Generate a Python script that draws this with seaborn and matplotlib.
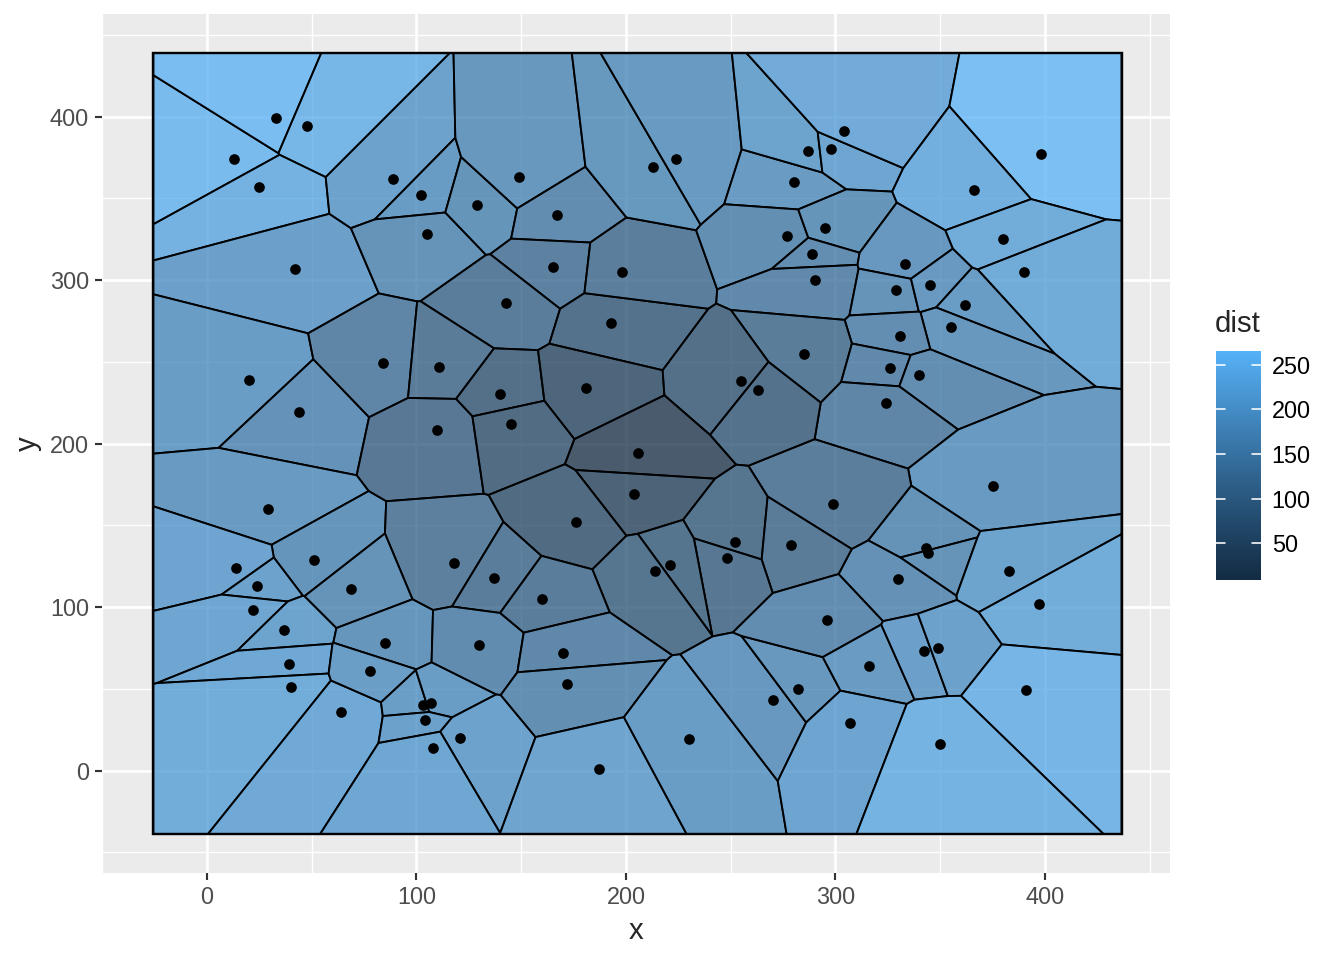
import numpy as np
import pandas as pd
import seaborn as sns
import matplotlib.pyplot as plt
from matplotlib.collections import PolyCollection
from matplotlib.colors import ListedColormap, Normalize, to_rgb
from matplotlib.cm import ScalarMappable

# point coordinates
xs = [13, 33, 48, 25, 42, 89, 102, 105, 129, 149, 167, 165, 143, 193, 198, 213, 224,
      280, 287, 298, 304, 277, 295, 289, 290, 398, 366, 380, 390, 333, 329, 345, 362,
      355, 331, 285, 326, 340, 324, 375, 299, 343, 344, 383, 330, 20, 44, 84, 111,
      140, 110, 29, 51, 14, 118, 137, 181, 255, 263, 145, 206, 204, 176, 252, 279,
      248, 221, 214, 24, 22, 37, 39, 40, 64, 69, 85, 78, 130, 103, 107, 104, 121,
      108, 160, 170, 172, 187, 230, 270, 282, 296, 397, 316, 342, 349, 391, 307, 350]
ys = [374, 399, 394, 357, 307, 362, 352, 328, 346, 363, 340, 308, 286, 274, 305, 369, 374,
      360, 379, 380, 391, 327, 332, 316, 300, 377, 355, 325, 305, 310, 294, 297, 285,
      271, 266, 255, 246, 242, 225, 174, 163, 136, 133, 122, 117, 239, 219, 249, 247,
      230, 208, 160, 129, 124, 127, 118, 234, 238, 233, 212, 194, 169, 152, 140, 138,
      130, 126, 122, 113, 98, 86, 65, 51, 36, 111, 78, 61, 77, 40, 41, 31, 20,
      14, 105, 72, 53, 1, 19, 43, 50, 92, 102, 64, 73, 75, 49, 29, 16]

df = pd.DataFrame({"x": xs, "y": ys})
df["dist"] = np.sqrt((df.x - 200) ** 2 + (df.y - 200) ** 2)

# bounding box like ggvoronoi (10% of range)
rx = df.x.max() - df.x.min()
ry = df.y.max() - df.y.min()
x0, x1 = df.x.min() - 0.1 * rx, df.x.max() + 0.1 * rx
y0, y1 = df.y.min() - 0.1 * ry, df.y.max() + 0.1 * ry


def clip(poly, a, b, c):
    # keep part of polygon with a*x + b*y <= c
    out = []
    n = len(poly)
    for i in range(n):
        p, q = poly[i], poly[(i + 1) % n]
        fp = a * p[0] + b * p[1] - c
        fq = a * q[0] + b * q[1] - c
        if fp <= 0:
            out.append(p)
        if fp * fq < 0:
            t = fp / (fp - fq)
            out.append((p[0] + t * (q[0] - p[0]), p[1] + t * (q[1] - p[1])))
    return out


pts = df[["x", "y"]].to_numpy(float)
cells = []
for i, p in enumerate(pts):
    poly = [(x0, y0), (x1, y0), (x1, y1), (x0, y1)]
    for j, q in enumerate(pts):
        if i == j:
            continue
        a, b = q - p
        c = (q @ q - p @ p) / 2
        poly = clip(poly, a, b, c)
        if not poly:
            break
    cells.append(poly)


# ggplot default gradient, interpolated in Lab
def to_lab(rgb):
    rgb = np.asarray(rgb, float)
    lin = np.where(rgb > 0.04045, ((rgb + 0.055) / 1.055) ** 2.4, rgb / 12.92)
    M = np.array([[0.4124, 0.3576, 0.1805], [0.2126, 0.7152, 0.0722], [0.0193, 0.1192, 0.9505]])
    xyz = M @ lin / np.array([0.95047, 1.0, 1.08883])
    f = np.where(xyz > 0.008856, np.cbrt(xyz), 7.787 * xyz + 16 / 116)
    return np.array([116 * f[1] - 16, 500 * (f[0] - f[1]), 200 * (f[1] - f[2])])


def from_lab(lab):
    L, A, B = lab
    fy = (L + 16) / 116
    f = np.array([fy + A / 500, fy, fy - B / 200])
    xyz = np.where(f ** 3 > 0.008856, f ** 3, (f - 16 / 116) / 7.787) * np.array([0.95047, 1.0, 1.08883])
    Mi = np.array([[3.2406, -1.5372, -0.4986], [-0.9689, 1.8758, 0.0415], [0.0557, -0.2040, 1.0570]])
    lin = Mi @ xyz
    rgb = np.where(lin > 0.0031308, 1.055 * np.clip(lin, 0, None) ** (1 / 2.4) - 0.055, 12.92 * lin)
    return np.clip(rgb, 0, 1)


lo, hi = to_lab(to_rgb("#132B43")), to_lab(to_rgb("#56B1F7"))
cmap = ListedColormap([from_lab(lo + t * (hi - lo)) for t in np.linspace(0, 1, 256)])
norm = Normalize(df.dist.min(), df.dist.max())

sns.set_theme(style="darkgrid", rc={
    "axes.facecolor": "#EBEBEB", "figure.facecolor": "white",
    "grid.color": "white", "grid.linewidth": 1.0,
})
plt.rcParams["font.family"] = ["Liberation Sans", "DejaVu Sans"]

fig = plt.figure(figsize=(7, 5), dpi=192)
ax = fig.add_axes([0.0759, 0.0906, 0.7946, 0.8948])

fills = [(*cmap(norm(d))[:3], 0.75) for d in df.dist]
ax.add_collection(PolyCollection(cells, facecolors=fills, edgecolors="black", linewidths=0.7, zorder=2))
ax.add_patch(plt.Rectangle((x0, y0), x1 - x0, y1 - y0, fill=False, ec="black", lw=0.9, zorder=3))
sns.scatterplot(data=df, x="x", y="y", color="black", s=16, linewidth=0, ax=ax, zorder=4)

ax.set_xlim(x0 - 0.05 * (x1 - x0), x1 + 0.05 * (x1 - x0))
ax.set_ylim(y0 - 0.05 * (y1 - y0), y1 + 0.05 * (y1 - y0))
ax.set_xticks([0, 100, 200, 300, 400])
ax.set_yticks([0, 100, 200, 300, 400])
ax.set_xticks([-50, 50, 150, 250, 350, 450], minor=True)
ax.set_yticks([-50, 50, 150, 250, 350, 450], minor=True)
ax.grid(which="minor", color="white", linewidth=0.5)
ax.tick_params(which="major", length=2.75, width=0.8, color="#333333", pad=2.2,
               labelsize=8.8, labelcolor="#4D4D4D", bottom=True, left=True)
ax.tick_params(which="minor", length=0)
ax.set_xlabel("x", fontsize=11, labelpad=2.75)
ax.set_ylabel("y", fontsize=11, labelpad=2.75)
for s in ax.spines.values():
    s.set_visible(False)

cax = fig.add_axes([0.9048, 0.3958, 0.0335, 0.2385])
cb = fig.colorbar(ScalarMappable(norm=norm, cmap=cmap), cax=cax)
cb.outline.set_visible(False)
cb.set_ticks([50, 100, 150, 200, 250])
cax.tick_params(length=0, labelsize=8.8, labelcolor="black", pad=4)
for v in [50, 100, 150, 200, 250]:
    cax.axhline(v, 0, 0.2, color="white", lw=0.6)
    cax.axhline(v, 0.8, 1, color="white", lw=0.6)
fig.text(0.904, 0.648, "dist", fontsize=11, ha="left", va="bottom")

fig.savefig("out.png", dpi=192)
